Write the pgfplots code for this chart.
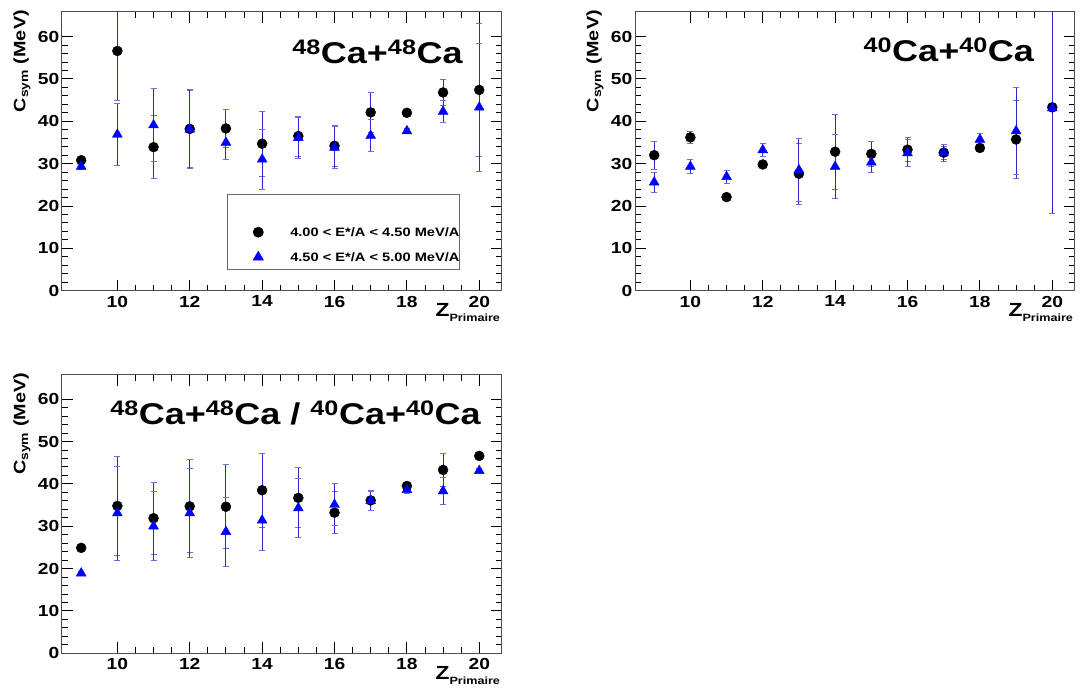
\documentclass[border=0pt]{standalone}
\usepackage{pgfplots}
\usepackage{pgfplotstable}
\pgfplotsset{compat=1.18}
\usepackage{fontspec}
\setmainfont{Liberation Sans}[FakeStretch=1.2]
\newcommand\fs[1]{\fontsize{#1}{#1}\selectfont}
\definecolor{ebar}{RGB}{40,40,200}
\definecolor{ecap}{RGB}{110,110,220}
\definecolor{mblue}{RGB}{0,0,255}

\pgfplotstableread{
x y e
9 30.8 1.0
10 56.6 11.6
11 33.9 7.4
12 38.2 9.0
13 38.3 4.5
14 34.7 7.7
15 36.5 4.7
16 34.2 4.8
17 42.1 4.7
18 42.0 0.6
19 46.8 3.0
20 47.4 15.8
}\AcirC
\pgfplotstableread{
x y e
9 29.3 0.6
10 36.9 7.3
11 39.1 8.6
12 38.1 9.3
13 35.0 3.9
14 31.0 7.0
15 36.1 4.9
16 33.8 5.0
17 36.6 3.8
18 37.7 0.6
19 42.3 2.5
20 43.3 15.1
}\AtriT
\pgfplotstableread{
x y e
9 32.0 3.3
10 36.2 1.5
11 22.1 0.6
12 29.8 0.6
13 27.6 7.2
14 32.8 8.8
15 32.3 3.0
16 33.3 2.8
17 32.6 1.5
18 33.7 0.8
19 35.7 9.2
20 43.3 1.0
}\BcirC
\pgfplotstableread{
x y e
9 25.6 2.4
10 29.3 1.6
11 26.9 1.5
12 33.2 1.6
13 28.5 7.4
14 29.3 7.6
15 30.3 2.4
16 32.5 3.2
17 32.6 2.0
18 35.7 1.5
19 37.7 10.2
20 43.1 24.8
}\BtriT
\pgfplotstableread{
x y e
9 24.9 0.6
10 34.8 11.6
11 31.9 8.5
12 34.7 11.0
13 34.6 9.9
14 38.5 8.7
15 36.7 7.1
16 33.2 4.9
17 36.1 2.3
18 39.5 0.8
19 43.3 3.9
20 46.6 0.6
}\CcirC
\pgfplotstableread{
x y e
9 18.9 0.5
10 33.1 11.1
11 30.0 8.1
12 33.1 10.5
13 28.7 8.2
14 31.4 7.1
15 34.3 7.0
16 35.1 5.0
17 36.0 2.3
18 38.6 0.8
19 38.3 3.2
20 43.1 0.5
}\CtriT

\pgfplotsset{
  rootax/.style={
    scale only axis, width=439.7pt, height=278.7pt, anchor=south west,
    xmin=8.47, xmax=20.62, ymin=0, ymax=65.8,
    xtick={10,12,...,20}, ytick={0,10,...,60},
    minor x tick num=3, minor y tick num=4,
    tick align=inside, major tick length=11pt, minor tick length=6pt,
    tick style={black, line width=0.9pt},
    axis line style={draw=black!70, line width=1pt},
    /pgf/number format/assume math mode=true,
    ticklabel style={font=\bfseries\fs{16}},
    yticklabel style={inner xsep=2.5pt},
    xticklabel style={inner ysep=5pt},
    every axis y label/.style={at={(rel axis cs:0,1)}, xshift=-40pt, yshift=2pt,
      anchor=east, rotate=90, inner sep=0pt, font=\bfseries\fs{16.5}},
    every axis x label/.style={at={(rel axis cs:1,0)}, xshift=-1.5pt, yshift=-26.3pt,
      anchor=base east, inner sep=0pt, font=\bfseries\fs{19}},
    ylabel={C\textsubscript{sym} (MeV)},
    xlabel={Z{\fs{10.5}\raisebox{-4.5pt}{Primaire}}},
  },
  ebars/.style={draw=none, mark=none, forget plot,
    error bars/.cd, y dir=both, y explicit,
    error bar style={draw=ebar, color=ebar, line width=1pt},
    error mark options={rotate=90, mark size=3pt, line width=0.9pt, draw=ecap, color=ecap}},
  circ/.style={only marks, mark=*, mark size=5pt, mark options={fill=black, draw=black}},
  tri/.style={only marks, mark=triangle*, mark size=5.7pt, mark options={fill=mblue, draw=mblue}},
}
\newcommand\series[2]{%
  \addplot[ebars] table[x=x, y=y, y error=e] {#1};
  \addplot[#2] table[x=x, y=y] {#1};
}

\begin{document}
\begin{tikzpicture}
\useasboundingbox (0,0) rectangle (1082pt,691pt);

% ---------------- Panel 1: 48Ca+48Ca ----------------
\begin{axis}[rootax, at={(62pt,400.3pt)},
  legend style={at={(rel axis cs:0.375,0.074)}, anchor=south west,
    draw=black!60, line width=0.8pt, fill=white,
    font=\bfseries\fs{12.2},
    inner xsep=0pt, inner ysep=0pt, row sep=0pt,
    /tikz/every even column/.append style={column sep=0pt},
    nodes={inner sep=0pt, text height=16.7pt, text depth=8.3pt, draw=none},
    cells={anchor=west}},
  legend image code/.code={\path[draw=none,fill=none] (-31pt,-12.5pt) rectangle (32pt,12.5pt);
    \draw[#1] plot coordinates {(0pt,0pt)};},
]
\addlegendimage{empty legend}\addlegendentry{}
\series{\AcirC}{circ}
\addlegendentry{4.00 < E*/A < 4.50 MeV/A}
\series{\AtriT}{tri}
\addlegendentry{4.50 < E*/A < 5.00 MeV/A}
\node[anchor=base, inner sep=0pt, font=\bfseries\fs{30}] at (rel axis cs:0.7175,0.816)
  {\textsuperscript{48}Ca+\textsuperscript{48}Ca};
\end{axis}

% ---------------- Panel 2: 40Ca+40Ca ----------------
\begin{axis}[rootax, at={(635pt,400.3pt)}]
\series{\BcirC}{circ}
\series{\BtriT}{tri}
\node[anchor=base, inner sep=0pt, font=\bfseries\fs{30}] at (rel axis cs:0.7136,0.822)
  {\textsuperscript{40}Ca+\textsuperscript{40}Ca};
\end{axis}

% ---------------- Panel 3 ----------------
\begin{axis}[rootax, at={(62pt,37.7pt)}]
\series{\CcirC}{circ}
\series{\CtriT}{tri}
\node[anchor=base, inner sep=0pt, font=\bfseries\fs{30}] at (rel axis cs:0.531,0.822)
  {\textsuperscript{48}Ca+\textsuperscript{48}Ca / \textsuperscript{40}Ca+\textsuperscript{40}Ca};
\end{axis}
\end{tikzpicture}
\end{document}
